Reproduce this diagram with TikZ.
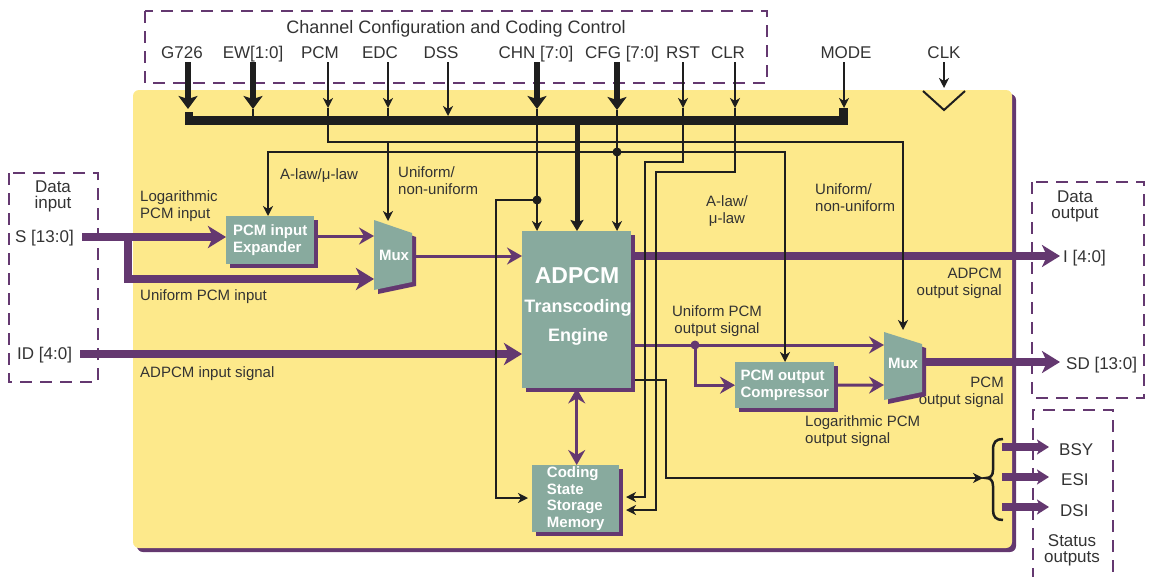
\documentclass[tikz,border=0pt]{standalone}
\usepackage{fontspec}
\setmainfont{Liberation Sans}
\usetikzlibrary{arrows.meta,shadows}
\definecolor{ylw}{HTML}{FDE98B}
\definecolor{tealbx}{HTML}{88AA9E}
\definecolor{purp}{HTML}{643870}
\definecolor{txt}{HTML}{333333}
\definecolor{blk}{HTML}{1E1E1E}
\begin{document}
\begin{tikzpicture}[x=1pt,y=-1pt,
  lbl/.style={font=\fontsize{15}{16.5}\selectfont, text=txt, inner sep=0pt, align=left},
  toplbl/.style={font=\fontsize{17}{19}\selectfont, text=txt, inner sep=0pt, anchor=base},
  sidelbl/.style={font=\fontsize{17}{16}\selectfont, text=txt, inner sep=0pt, align=center},
  boxtxt/.style={font=\fontsize{15}{16.4}\selectfont\bfseries, text=white, inner sep=0pt},
  tbox/.style={boxtxt, fill=tealbx, align=left, anchor=north west,
     general shadow={shadow xshift=4pt, shadow yshift=-4pt, fill=purp}},
  dbox/.style={draw=purp, line width=2.5pt, dash pattern=on 12pt off 8pt},
  bline/.style={draw=blk, line width=2.2pt},
  barr/.style={bline, -{Stealth[length=10pt,width=10pt,inset=3pt]}},
  barrb/.style={bline, {Stealth[length=10pt,width=10pt,inset=3pt]}-{Stealth[length=10pt,width=10pt,inset=3pt]}},
  bthick/.style={draw=blk, line width=6pt, -{Stealth[length=13pt,width=19pt,inset=3pt]}},
  btap/.style={draw=blk, line width=5pt, -{Stealth[length=11pt,width=13pt,inset=2pt]}},
  pthick/.style={draw=purp, line width=7.5pt},
  pthickarr/.style={pthick, -{Stealth[length=18pt,width=22pt,inset=5pt]}},
  pstat/.style={pthick, -{Stealth[length=12pt,width=15pt,inset=3pt]}},
  pthin/.style={draw=purp, line width=3pt},
  pthinarr/.style={pthin, -{Stealth[length=15pt,width=17pt,inset=5pt]}},
  pthinboth/.style={pthin, {Stealth[length=15pt,width=17pt,inset=5pt]}-{Stealth[length=15pt,width=17pt,inset=5pt]}},
  bdot/.style={circle, fill=blk, inner sep=0pt, minimum size=9pt},
  pdot/.style={circle, fill=purp, inner sep=0pt, minimum size=9pt},
]
\useasboundingbox (0,0) rectangle (1153,576);

% main panel
\fill[purp, rounded corners=6pt] (137,94) rectangle (1016,552);
\fill[ylw, rounded corners=6pt] (133,90) rectangle (1012,548);

% dashed groups
\draw[dbox] (145,11) rectangle (767,83);
\draw[dbox] (9,173) rectangle (98,382);
\draw[dbox] (1032,182) rectangle (1144,398);
\draw[dbox] (1033,600) -- (1033,410) -- (1113,410) -- (1113,600);

% top labels
\node[toplbl, font=\fontsize{18}{20}\selectfont] (title) at (456,33) {Channel Configuration and Coding Control};
\node[toplbl] (g726) at (182,58) {G726};
\node[toplbl] (ew) at (253,58) {EW[1:0]};
\node[toplbl] (pcm) at (320,58) {PCM};
\node[toplbl] (edc) at (380,58) {EDC};
\node[toplbl] (dss) at (441,58) {DSS};
\node[toplbl] (chn) at (536,58) {CHN [7:0]};
\node[toplbl] (cfg) at (622,58) {CFG [7:0]};
\node[toplbl] (rst) at (683,58) {RST};
\node[toplbl] (clr) at (728,58) {CLR};
\node[toplbl] (mode) at (846,58) {MODE};
\node[toplbl] (clk) at (944,58) {CLK};

% side labels (base = last line)
\node[sidelbl, anchor=base] (din) at (53,208) {Data\\input};
\node[sidelbl, anchor=base west] (sin) at (15,242) {S [13:0]};
\node[sidelbl, anchor=base west] (idin) at (17,359) {ID [4:0]};
\node[sidelbl, anchor=base] (dout) at (1075,218) {Data\\output};
\node[sidelbl, anchor=base west] (iout) at (1063,262) {I [4:0]};
\node[sidelbl, anchor=base west] (sdout) at (1066,369) {SD [13:0]};
\node[sidelbl, anchor=base west] (bsy) at (1059,455) {BSY};
\node[sidelbl, anchor=base west] (esi) at (1061,485) {ESI};
\node[sidelbl, anchor=base west] (dsi) at (1060,516) {DSI};
\node[sidelbl, anchor=base] (stat) at (1072,562) {Status\\outputs};

% inner labels (base = last line)
\node[lbl, anchor=base west] (login) at (140,218) {Logarithmic\\PCM input};
\node[lbl, anchor=base west] (uniin) at (140,300) {Uniform PCM input};
\node[lbl, anchor=base west] (adin) at (140,377) {ADPCM input signal};
\node[lbl, anchor=base west] (alaw1) at (280,179) {A-law/μ-law};
\node[lbl, anchor=base west] (unif1) at (398,194) {Uniform/\\non-uniform};
\node[lbl, anchor=base, align=center] (alaw2) at (727,223) {A-law/\\μ-law};
\node[lbl, anchor=base west] (unif2) at (815,211) {Uniform/\\non-uniform};
\node[lbl, anchor=base east, align=right] (adout) at (1002,295) {ADPCM\\output signal};
\node[lbl, anchor=base, align=center] (uniout) at (717,333) {Uniform PCM\\output signal};
\node[lbl, anchor=base east, align=right] (pcmout) at (1004,404) {PCM\\output signal};
\node[lbl, anchor=base west] (logout) at (805,443) {Logarithmic PCM\\output signal};

% boxes
\node[tbox, minimum width=88pt, minimum height=48pt] (exp) at (226,216) {PCM input\\Expander};
\node[tbox, minimum width=109pt, minimum height=157pt] (eng) at (522,231) {};
\node[tbox, minimum width=99pt, minimum height=46pt] (cmp) at (735,362) {PCM output\\Compressor};
\node[tbox, minimum width=87pt, minimum height=67pt] (mem) at (532,465) {Coding\\State\\Storage\\Memory};
\node[boxtxt, font=\fontsize{23}{25}\selectfont\bfseries, anchor=base] (engA) at (577,283) {ADPCM};
\node[boxtxt, font=\fontsize{18}{20}\selectfont\bfseries, anchor=base] (engB) at (578,312) {Transcoding};
\node[boxtxt, font=\fontsize{18}{20}\selectfont\bfseries, anchor=base] (engC) at (578,341) {Engine};

% muxes
\fill[purp] (378,224) -- (416,237) -- (416,286) -- (378,294) -- cycle;
\fill[tealbx] (374,220) -- (412,233) -- (412,282) -- (374,290) -- cycle;
\node[boxtxt, anchor=base] (mux1) at (394,260) {Mux};
\fill[purp] (888,336) -- (926,348) -- (926,396) -- (888,404) -- cycle;
\fill[tealbx] (884,332) -- (922,344) -- (922,392) -- (884,400) -- cycle;
\node[boxtxt, anchor=base] (mux2) at (903,368) {Mux};

% coordinates
\coordinate (sL) at (82,237);
\coordinate (sB) at (128,237);
\coordinate (m1in2) at (374,279);
\coordinate (m1in1) at (374,236);
\coordinate (m1out) at (414,256);
\coordinate (idL) at (80,354);
\coordinate (iTip) at (1060,256);
\coordinate (m2in1) at (884,345);
\coordinate (m2in2) at (884,385);
\coordinate (m2out) at (925,362);
\coordinate (sdTip) at (1060,362);
\coordinate (dotU) at (695,345);
\coordinate (bsyL) at (1002,447); \coordinate (bsyT) at (1049,447);
\coordinate (esiL) at (1002,477); \coordinate (esiT) at (1049,477);
\coordinate (dsiL) at (1002,507); \coordinate (dsiT) at (1049,507);

% purple data paths
\draw[pthickarr] (sL) -- (exp.west |- sL);
\draw[pthickarr] (sB) |- (m1in2);
\draw[pthinarr] (exp.east |- m1in1) -- (m1in1);
\draw[pthinarr] (m1out) -- (eng.west |- m1out);
\draw[pthickarr] (idL) -- (eng.west |- idL);
\draw[pthickarr] (eng.east |- iTip) -- (iTip);
\draw[pthinarr] (eng.east |- m2in1) -- (m2in1);
\draw[pthinarr] (dotU) |- (cmp.west);
\node[pdot] (dU) at (dotU) {};
\draw[pthinarr] (cmp.east) -- (m2in2);
\draw[pthickarr] (m2out) -- (sdTip);
\draw[pthinboth] (eng.south) -- (mem.north -| eng.south);
\draw[pstat] (bsyL) -- (bsyT);
\draw[pstat] (esiL) -- (esiT);
\draw[pstat] (dsiL) -- (dsiT);

% control bus
\coordinate (busL) at (185,120.5);
\coordinate (busR) at (848,120.5);
\draw[blk, line width=9pt] (busL) -- (busR);
\fill[blk] (185,112) rectangle (193,121);
\fill[blk] (839,108) rectangle (848,121);

\coordinate (aG) at (188,62);  \coordinate (bG) at (188,109);
\coordinate (aE) at (253,62);  \coordinate (bE) at (253,109);
\coordinate (aP) at (328,62);  \coordinate (bP) at (328,108);
\coordinate (aD) at (388,62);  \coordinate (bD) at (388,108);
\coordinate (aS) at (448,62);  \coordinate (bS) at (448,116);
\coordinate (aC) at (537,62);  \coordinate (bC) at (537,109);
\coordinate (aF) at (617,62);  \coordinate (bF) at (617,110);
\coordinate (aR) at (683,62);  \coordinate (bR) at (683,108);
\coordinate (aL) at (735,62);  \coordinate (bL) at (735,108);
\coordinate (aM) at (844,62);  \coordinate (bM) at (844,108);
\coordinate (aK) at (944,62);  \coordinate (bK) at (944,88);

\draw[bline] (bE) -- (bE |- busL);
\draw[bline] (bD) -- (bD |- busL);
\draw[bthick] (aG) -- (bG);
\draw[bthick] (aE) -- (bE);
\draw[barr] (aP) -- (bP);
\draw[barr] (aD) -- (bD);
\draw[barr] (aS) -- (bS);
\draw[bthick] (aC) -- (bC);
\draw[bthick] (aF) -- (bF);
\draw[barr] (aR) -- (bR);
\draw[barr] (aL) -- (bL);
\draw[barr] (aM) -- (bM);
\draw[barr] (aK) -- (bK);

% clock symbol
\coordinate (ckL) at (923,91); \coordinate (ckM) at (944,110); \coordinate (ckR) at (965,91);
\draw[blk, line width=2pt] (ckL) -- (ckM) -- (ckR);

% control routing
\coordinate (jUN1) at (388,142);
\coordinate (jUN2) at (903,142);
\coordinate (m2top) at (903,330);
\coordinate (m1top) at (388,221);
\coordinate (jAL1) at (268,152);
\coordinate (jAL2) at (785,152);
\coordinate (jCFG) at (617,152);
\coordinate (jCHN) at (537,200);
\coordinate (jMem) at (496,200);
\coordinate (memL) at (528,498);
\coordinate (jRST2) at (645,162);
\coordinate (jCLR2) at (656,172);
\coordinate (memR1) at (626,497);
\coordinate (memR2) at (626,510);
\coordinate (engOut) at (635,380);
\coordinate (jOut2) at (666,478);
\coordinate (brTip) at (983,478);
\coordinate (tap) at (577,120);

\draw[barr] (bP) |- (jUN2) -- (m2top);
\draw[barr] (jUN1) -- (m1top);
\draw[barrb] (exp.north -| jAL1) -- (jAL1) -- (jAL2) -- (cmp.north -| jAL2);
\draw[barr] (bF) -- (eng.north -| bF);
\draw[barr] (bC) -- (eng.north -| bC);
\draw[btap] (tap) -- (eng.north -| tap);
\draw[barr] (jCHN) -- (jMem) |- (memL);
\draw[barr] (bR) |- (jRST2) |- (memR1);
\draw[barr] (bL) |- (jCLR2) |- (memR2);
\draw[barr] (engOut) -| (jOut2) -- (brTip);
\node[bdot] (dCFG) at (jCFG) {};
\node[bdot] (dCHN) at (jCHN) {};

% status brace
\draw[blk, line width=2.5pt] (1003,439) .. controls (996,439) and (993,442) .. (993,450) -- (993,470)
  .. controls (993,476) and (990,478) .. (986,478)
  .. controls (990,478) and (993,480) .. (993,486) -- (993,510)
  .. controls (993,517) and (996,520) .. (1003,520);
\end{tikzpicture}
\end{document}
